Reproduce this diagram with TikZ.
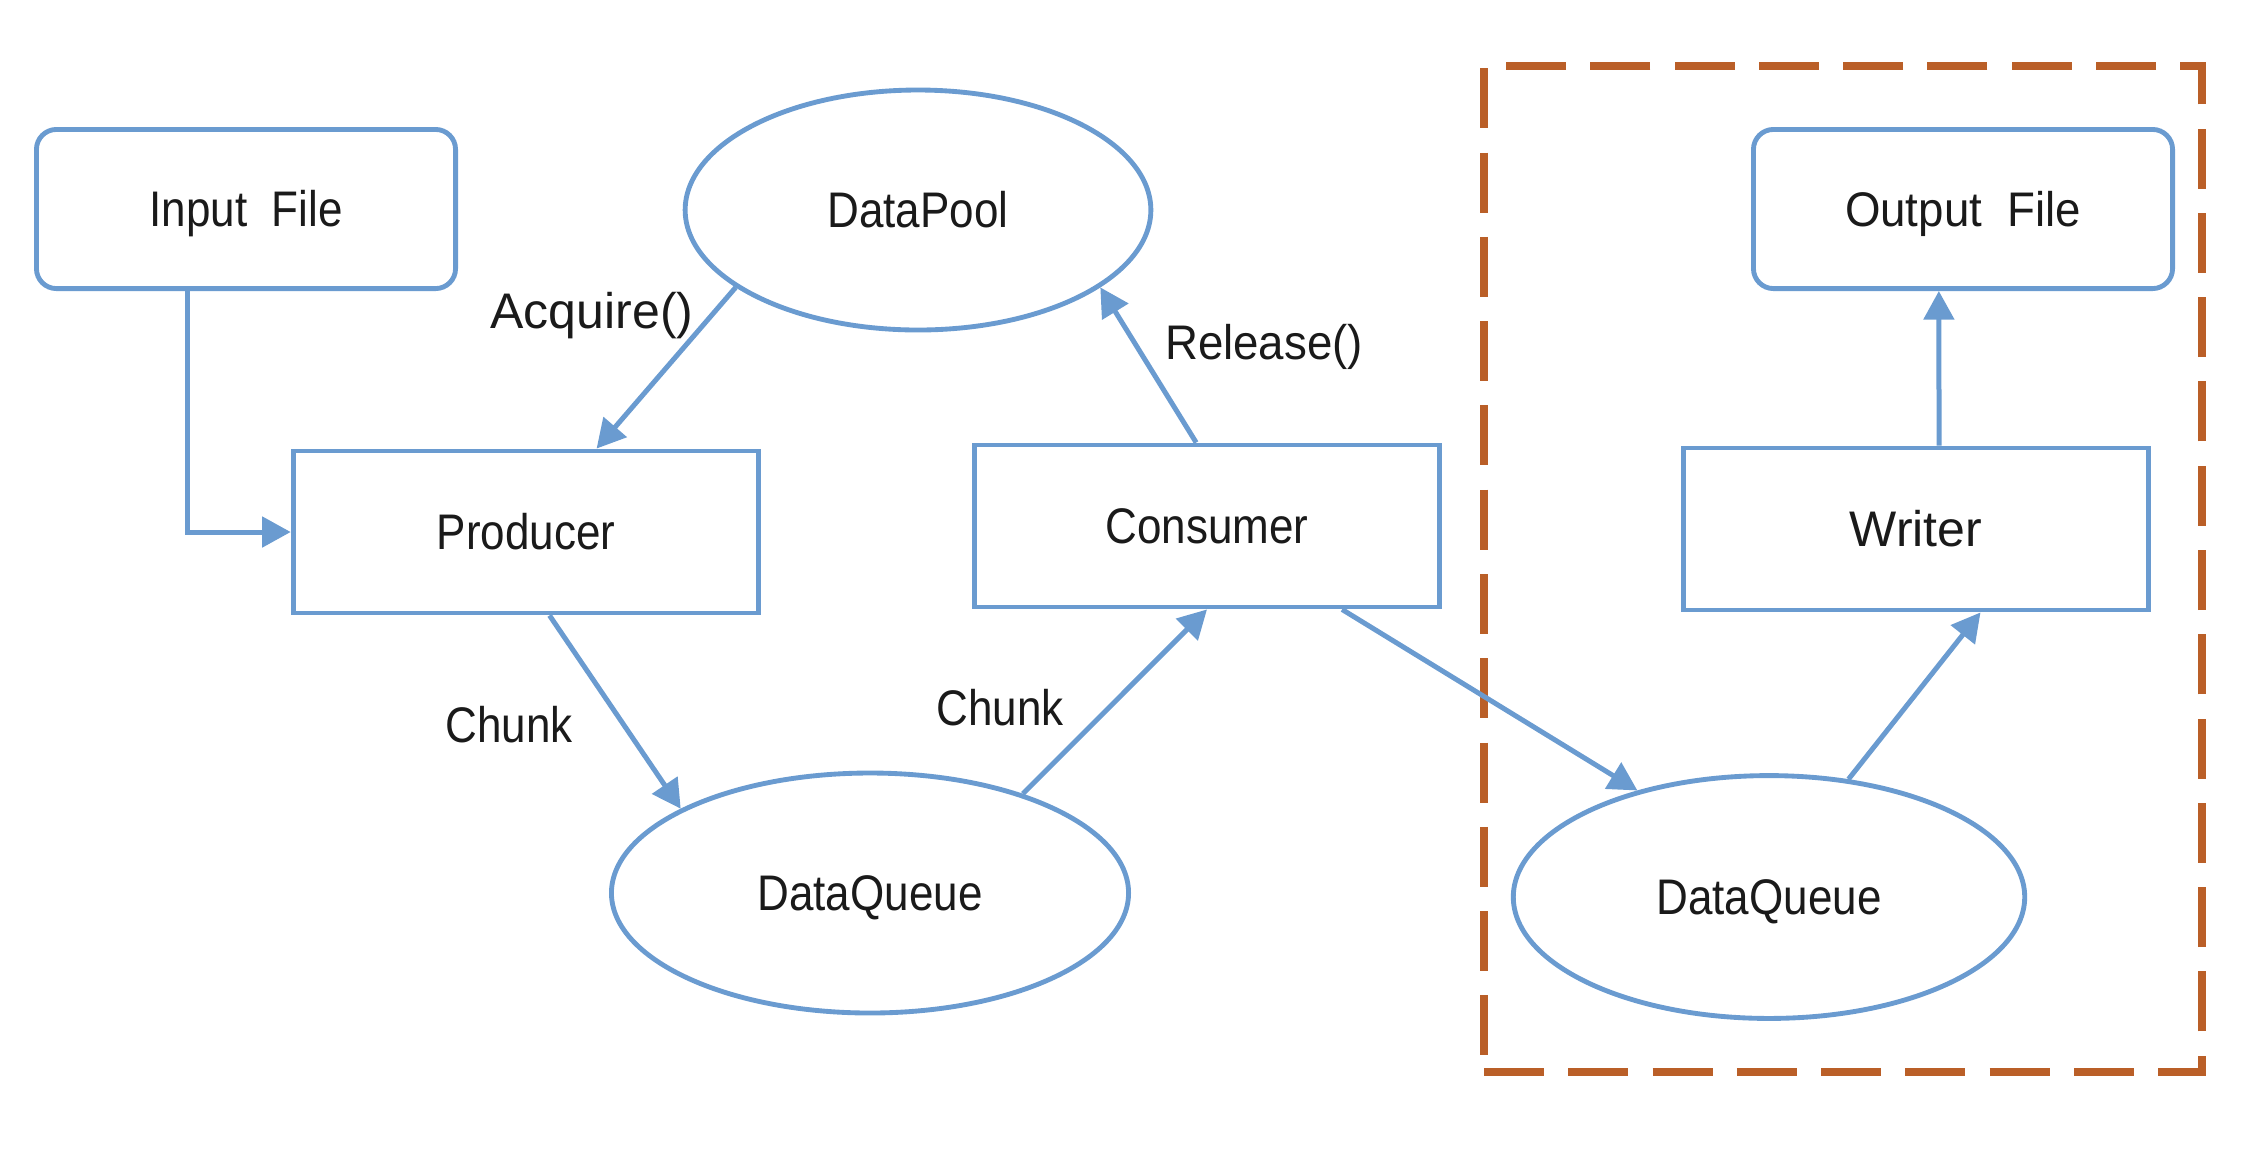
\documentclass[tikz,border=0pt]{standalone}
\usepackage{fontspec}
\setmainfont{Liberation Sans}
\newfontfamily\condfont[FakeStretch=0.88]{Liberation Sans}
\newfontfamily\semifont[FakeStretch=0.94]{Liberation Sans}
\usetikzlibrary{shapes.geometric,arrows.meta,calc}
\definecolor{lineblue}{HTML}{6A9BD0}
\definecolor{groupbrown}{HTML}{BA5F28}
\definecolor{txtcol}{HTML}{1A1A1A}
\tikzset{
  base/.style={draw=lineblue, line width=1.7pt, fill=white, text=txtcol, inner sep=0pt, text height=12.5pt, text depth=0pt},
  filebox/.style={base, rounded corners=7pt, minimum width=146.7pt, minimum height=55.7pt},
  procbox/.style={base, minimum width=163pt, minimum height=56.7pt},
  store/.style={base, ellipse},
  cond/.style={font=\condfont\fontsize{17.5}{20}\selectfont},
  semi/.style={font=\semifont\fontsize{17}{20}\selectfont},
  norm/.style={font=\fontsize{17.5}{20}\selectfont},
  lbl/.style={text=txtcol, inner sep=0pt, text height=12.5pt, text depth=0pt},
  arr/.style={draw=lineblue, line width=1.75pt, -{Triangle[length=10pt,width=10.5pt]}},
  groupbox/.style={draw=groupbrown, line width=2.8pt, dash pattern=on 21pt off 8.5pt, minimum width=251.3pt, minimum height=352.1pt, inner sep=0pt}
}
\begin{document}
\begin{tikzpicture}[x=0.35pt,y=-0.35pt]
\useasboundingbox (0,0) rectangle (2266,1148);
\node[groupbox] (grp) at (1843,569) {};
\node[filebox, cond] (in) at (246,209) {Input\ \ File};
\node[store, cond, minimum width=163pt, minimum height=84pt] (dp) at (918,210) {DataPool};
\node[procbox, cond] (prod) at (526,532) {Producer};
\node[procbox, cond] (cons) at (1207,526) {Consumer};
\node[store, cond, minimum width=181pt, minimum height=84pt] (dq1) at (870,893) {DataQueue};
\node[filebox, semi] (out) at (1963,209) {Output\ \ File};
\node[procbox, norm] (wr) at (1916,529) {Writer};
\node[store, cond, minimum width=179pt, minimum height=85pt] (dq2) at (1769,897) {DataQueue};
\node[lbl, norm] (acq) at (592,311) {Acquire()};
\node[lbl, semi] (rel) at (1264,342) {Release()};
\node[lbl, cond] (ch1) at (509,725) {Chunk};
\node[lbl, cond] (ch2) at (1000,708) {Chunk};
\draw[arr] ($(in.south west)!0.363!(in.south east)$) |- (prod.west);
\draw[arr] (dp.203) -- ($(prod.north west)!0.65!(prod.north east)$);
\draw[arr] ($(cons.north west)!0.477!(cons.north east)$) -- (dp.-23);
\draw[arr] ($(prod.south west)!0.55!(prod.south east)$) -- (dq1.156);
\draw[arr] (dq1.33) -- (cons.south);
\draw[arr] ($(cons.south west)!0.787!(cons.south east)$) -- (dq2.141);
\draw[arr] (dq2.56) -- ($(wr.south west)!0.637!(wr.south east)$);
\draw[arr] ($(wr.north west)!0.549!(wr.north east)$) -- ($(out.south west)!0.443!(out.south east)$);
\end{tikzpicture}
\end{document}
